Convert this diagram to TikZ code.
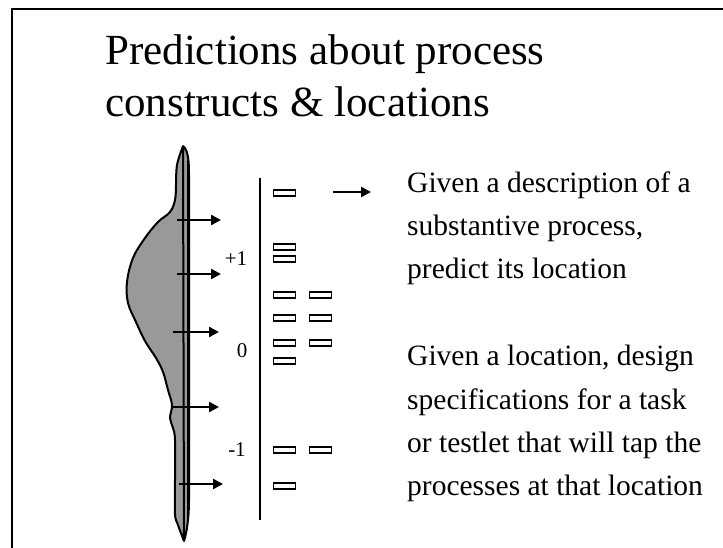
\documentclass[tikz,border=0pt]{standalone}
\usepackage{fontspec}
\setmainfont{Liberation Serif}
\usetikzlibrary{arrows.meta}
\definecolor{blobgray}{RGB}{153,153,153}
\begin{document}
\begin{tikzpicture}[x=1pt,y=-1pt,
  frame/.style={line width=2pt},
  blob/.style={draw=black,line width=2pt,fill=blobgray,line join=round},
  probe/.style={line width=2.4pt,-{Triangle[length=10pt,width=10pt]}},
  item/.style={draw=black,line width=1.8pt,fill=white,minimum width=22pt,minimum height=5.5pt,inner sep=0pt},
  title/.style={anchor=base west,inner sep=0pt,font=\fontsize{43}{52}\selectfont},
  body/.style={anchor=base west,inner sep=0pt,font=\fontsize{29.5}{43}\selectfont},
  tick/.style={inner sep=0pt,font=\fontsize{21}{24}\selectfont}]
\useasboundingbox (0,0) rectangle (723,548);
\fill[white] (0,0) rectangle (723,548);
% slide frame
\draw[frame] (723,9) -- (12,9) -- (12,548);

% title
\node[title] (t1) at (105,65) {Predictions about process};
\node[title] (t2) at (105,117) {constructs \& locations};

% distribution of persons along the scale
\draw[blob] (183,146) .. controls (188,150) and (189,160) .. (189,175)
  -- (189,500) .. controls (189,520) and (186,535) .. (184,541)
  plot[smooth,tension=0.6] coordinates {(184,541) (178,525) (175,514)
    (175,480) (175,440) (173,428) (170,418) (172,405) (168,390) (163,372)
    (156,358) (145,341) (136,322) (128,303) (127,282) (133,258) (145,238)
    (158,222) (170,212) (175,200) (176,185) (177,165) (183,146)} -- cycle;
\draw[line width=1.6pt] (187.5,160) -- (187.5,530);

% probes from the distribution
\foreach \n/\xa/\xb/\yy in {1/177/221/220, 2/177/221/274, 3/173/219/332, 4/173/219/407, 5/179/223/484}{
  \coordinate (pa\n) at (\xa,\yy);
  \coordinate (pb\n) at (\xb,\yy);
  \draw[probe] (pa\n) -- (pb\n);
}

% scale axis and its labels
\coordinate (axtop) at (260,178);
\coordinate (axbot) at (260,520);
\draw[line width=2.4pt] (axtop) -- (axbot);
\node[tick] (lp) at (236,259) {+1};
\node[tick] (lz) at (242,351) {0};
\node[tick] (lm) at (237,450) {-1};

% items placed on the scale
\foreach \n/\yy in {a/193, b/247, c/259, d/295, e/318, f/343, g/361, h/450, i/486}{
  \node[item] (c1\n) at (284.5,\yy) {};
}
\foreach \n/\yy in {d/295, e/318, f/343, h/450}{
  \node[item] (c2\n) at (320.5,\yy) {};
}

% arrow to the description
\coordinate (da) at (333,192);
\coordinate (db) at (371,192);
\draw[probe] (da) -- (db);

% explanations
\node[body] (u1) at (407,193) {Given a description of a};
\node[body] (u2) at (407,236) {substantive process,};
\node[body] (u3) at (407,279) {predict its location};
\node[body] (l1) at (407,365) {Given a location, design};
\node[body] (l2) at (407,409) {specifications for a task};
\node[body] (l3) at (407,452) {or testlet that will tap the};
\node[body] (l4) at (407,495) {processes at that location};
\end{tikzpicture}
\end{document}
